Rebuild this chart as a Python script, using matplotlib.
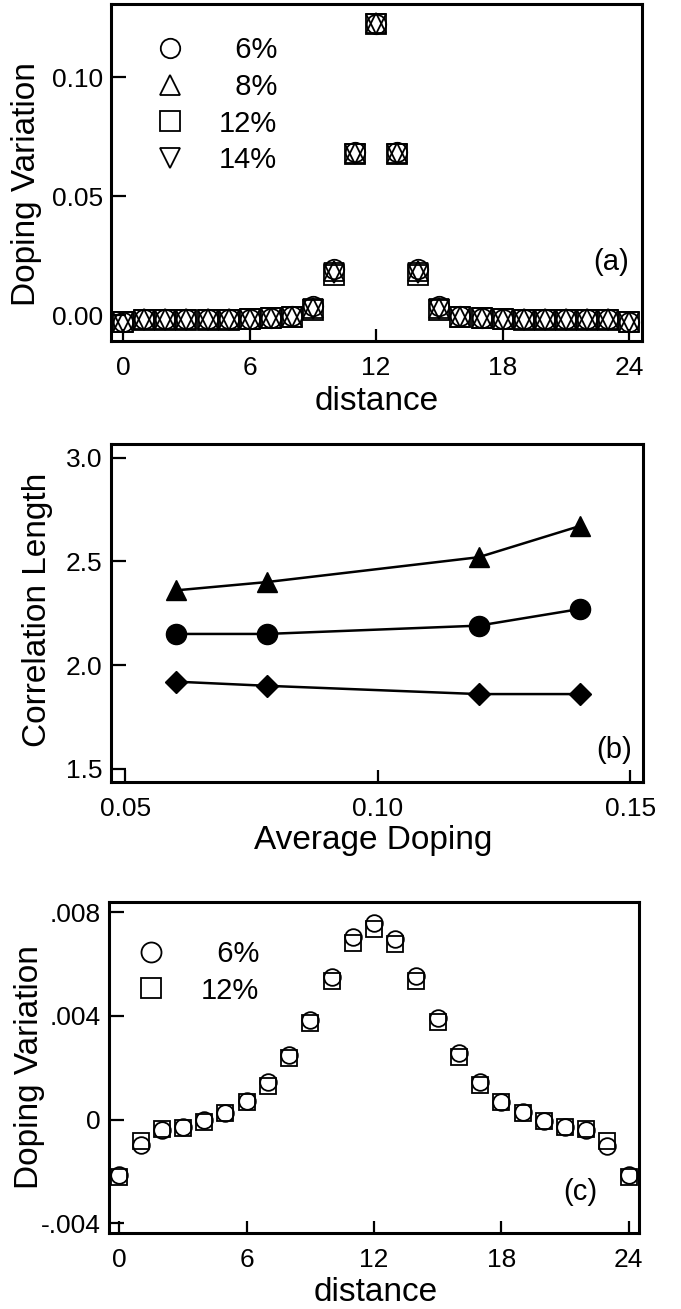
import matplotlib
matplotlib.use("Agg")
import matplotlib.pyplot as plt
from matplotlib.ticker import FixedLocator, FixedFormatter

plt.rcParams['font.family'] = ['Liberation Sans', 'DejaVu Sans']

# ---------------- data ----------------
distance = list(range(25))

# panel (a): doping variation for four average dopings
a_labels = ["  6%", "  8%", "12%", "14%"]
a_06 = [-0.0028, -0.0018, -0.0018, -0.0018, -0.0018, -0.0018, -0.0016, -0.0012, -0.0005,
        0.0036, 0.0195, 0.0685, 0.1225, 0.0685, 0.0195, 0.0036, -0.0005, -0.0012,
        -0.0016, -0.0018, -0.0018, -0.0018, -0.0018, -0.0018, -0.0028]
a_08 = [-0.0028, -0.0018, -0.0018, -0.0018, -0.0018, -0.0018, -0.0016, -0.0013, -0.0007,
        0.0030, 0.0185, 0.0682, 0.1226, 0.0682, 0.0185, 0.0030, -0.0007, -0.0013,
        -0.0016, -0.0018, -0.0018, -0.0018, -0.0018, -0.0018, -0.0028]
a_12 = [-0.0030, -0.0019, -0.0019, -0.0019, -0.0019, -0.0019, -0.0017, -0.0014, -0.0009,
        0.0022, 0.0170, 0.0678, 0.1224, 0.0678, 0.0170, 0.0022, -0.0009, -0.0014,
        -0.0017, -0.0019, -0.0019, -0.0019, -0.0019, -0.0019, -0.0030]
a_14 = [-0.0030, -0.0019, -0.0019, -0.0019, -0.0019, -0.0019, -0.0017, -0.0014, -0.0009,
        0.0025, 0.0175, 0.0676, 0.1222, 0.0676, 0.0175, 0.0025, -0.0009, -0.0014,
        -0.0017, -0.0019, -0.0019, -0.0019, -0.0019, -0.0019, -0.0030]

# panel (b): correlation length vs average doping
avg_doping = [0.06, 0.078, 0.12, 0.14]
corr_triangle = [2.36, 2.40, 2.52, 2.67]
corr_circle = [2.15, 2.15, 2.19, 2.27]
corr_diamond = [1.92, 1.90, 1.86, 1.86]

# panel (c): doping variation, 6% and 12%
c_labels = ["  6%", "12%"]
c_06 = [-0.00213, -0.00098, -0.00042, -0.00027, -0.00001, 0.00026, 0.00071, 0.00144,
        0.00250, 0.00385, 0.00549, 0.00703, 0.00757, 0.00697, 0.00552, 0.00392,
        0.00256, 0.00144, 0.00069, 0.00028, -0.00004, -0.00030, -0.00042, -0.00100,
        -0.00213]
c_12 = [-0.00220, -0.00081, -0.00036, -0.00033, -0.00010, 0.00025, 0.00068, 0.00131,
        0.00237, 0.00372, 0.00536, 0.00682, 0.00736, 0.00678, 0.00536, 0.00375,
        0.00240, 0.00135, 0.00069, 0.00026, -0.00004, -0.00030, -0.00036, -0.00081,
        -0.00220]

dist_ticks = [0, 6, 12, 18, 24]
a_yticks = [0.0, 0.05, 0.10]
a_yticklabels = ["0.00", "0.05", "0.10"]
b_xticks = [0.05, 0.10, 0.15]
b_xticklabels = ["0.05", "0.10", "0.15"]
b_yticks = [1.5, 2.0, 2.5, 3.0]
b_yticklabels = ["1.5", "2.0", "2.5", "3.0"]
c_yticks = [-0.004, 0.0, 0.004, 0.008]
c_yticklabels = ["-.004", "0", ".004", ".008"]

# ---------------- figure ----------------
W, H = 681, 1309
fig = plt.figure(figsize=(W / 100, H / 100), dpi=100)

def box(l, r, t, b):
    return [l / W, 1 - b / H, (r - l) / W, (b - t) / H]

ax_a = fig.add_axes(box(111, 641.7, 4, 341))
ax_b = fig.add_axes(box(111, 642.7, 444, 782))
ax_c = fig.add_axes(box(108.7, 639.3, 901.7, 1232.7))

TICK_FS = 19
LABEL_FS = 24
LEG_FS = 21

def style(ax):
    for s in ax.spines.values():
        s.set_linewidth(2.2)
    ax.tick_params(direction='in', width=1.6, labelsize=TICK_FS)
    ax.tick_params(axis='y', length=11, pad=6)
    ax.tick_params(axis='x', length=9, pad=11)

# ---- panel (a)
kw = dict(linestyle='none', markerfacecolor='none', markeredgecolor='black',
          markeredgewidth=1.3, markersize=14)
ax_a.plot(distance, a_06, marker='o', label=a_labels[0], **kw)
ax_a.plot(distance, a_08, marker='^', label=a_labels[1], **kw)
ax_a.plot(distance, a_12, marker='s', label=a_labels[2], **kw)
ax_a.plot(distance, a_14, marker='v', label=a_labels[3], **kw)
ax_a.set_xlim(-0.58, 24.6)
ax_a.set_ylim(-0.0109, 0.1307)
ax_a.xaxis.set_major_locator(FixedLocator(dist_ticks))
ax_a.yaxis.set_major_locator(FixedLocator(a_yticks))
ax_a.yaxis.set_major_formatter(FixedFormatter(a_yticklabels))
style(ax_a)
ax_a.set_xlabel("distance", fontsize=LABEL_FS)
ax_a.set_ylabel("Doping Variation", fontsize=LABEL_FS)
ax_a.xaxis.set_label_coords(0.5, -0.134)
ax_a.yaxis.set_label_coords(-0.1306, 0.466)
ax_a.legend(loc='upper left', bbox_to_anchor=(0.083, 0.905), frameon=False,
            fontsize=LEG_FS, handlelength=1.0, handletextpad=1.2, labelspacing=0.3,
            borderpad=0, borderaxespad=0, numpoints=1)
ax_a.text(0.976, 0.234, "(a)", transform=ax_a.transAxes, ha='right', va='center',
          fontsize=LEG_FS)

# ---- panel (b)
lkw = dict(color='black', linewidth=1.8)
ax_b.plot(avg_doping, corr_triangle, marker='^', markersize=15, **lkw)
ax_b.plot(avg_doping, corr_circle, marker='o', markersize=14.5, **lkw)
ax_b.plot(avg_doping, corr_diamond, marker='D', markersize=11, **lkw)
ax_b.set_xlim(0.0472, 0.1525)
ax_b.set_ylim(1.436, 3.066)
ax_b.xaxis.set_major_locator(FixedLocator(b_xticks))
ax_b.xaxis.set_major_formatter(FixedFormatter(b_xticklabels))
ax_b.yaxis.set_major_locator(FixedLocator(b_yticks))
ax_b.yaxis.set_major_formatter(FixedFormatter(b_yticklabels))
style(ax_b)
ax_b.set_xlabel("Average Doping", fontsize=LABEL_FS)
ax_b.set_ylabel("Correlation Length", fontsize=LABEL_FS)
ax_b.xaxis.set_label_coords(0.493, -0.127)
ax_b.yaxis.set_label_coords(-0.1085, 0.51)
ax_b.text(0.98, 0.095, "(b)", transform=ax_b.transAxes, ha='right', va='center',
          fontsize=LEG_FS)

# ---- panel (c)
kc = dict(linestyle='none', markerfacecolor='none', markeredgecolor='black',
          markeredgewidth=1.3, markersize=12)
ax_c.plot(distance, c_06, marker='o', label=c_labels[0], **kc)
ax_c.plot(distance, c_12, marker='s', label=c_labels[1], **kc)
ax_c.set_xlim(-0.5, 24.5)
ax_c.set_ylim(-0.00436, 0.0084)
ax_c.xaxis.set_major_locator(FixedLocator(dist_ticks))
ax_c.yaxis.set_major_locator(FixedLocator(c_yticks))
ax_c.yaxis.set_major_formatter(FixedFormatter(c_yticklabels))
style(ax_c)
ax_c.set_xlabel("distance", fontsize=LABEL_FS)
ax_c.set_ylabel("Doping Variation", fontsize=LABEL_FS)
ax_c.xaxis.set_label_coords(0.503, -0.133)
ax_c.yaxis.set_label_coords(-0.12, 0.50)
ax_c.legend(loc='upper left', bbox_to_anchor=(0.053, 0.885), frameon=False,
            fontsize=LEG_FS, handlelength=1.0, handletextpad=1.2, labelspacing=0.3,
            borderpad=0, borderaxespad=0, numpoints=1, markerscale=1.2)
ax_c.text(0.921, 0.124, "(c)", transform=ax_c.transAxes, ha='right', va='center',
          fontsize=LEG_FS)

fig.savefig("out.png", dpi=100)
